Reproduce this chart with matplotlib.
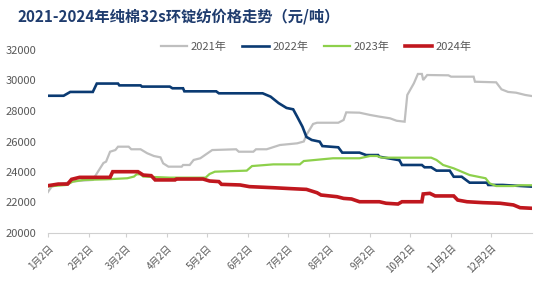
import matplotlib
matplotlib.use("Agg")
import matplotlib.pyplot as plt

plt.rcParams['font.family'] = ['Noto Sans CJK SC', 'DejaVu Sans']

title = "2021-2024年纯棉32s环锭纺价格走势（元/吨）"
tick_days = [0, 31, 59, 90, 120, 151, 181, 212, 243, 273, 304, 334]
tick_labels = ["1月2日", "2月2日", "3月2日", "4月2日", "5月2日", "6月2日",
               "7月2日", "8月2日", "9月2日", "10月2日", "11月2日", "12月2日"]

# day offset from Jan 2
days_2021 = [0, 3, 9, 21, 34, 37, 42, 44, 47, 51, 53, 61, 63, 70, 75, 80, 85, 87, 91, 101, 102, 107,
             110, 115, 124, 142, 144, 155, 157, 165, 175, 188, 193, 195, 200, 203, 219, 223, 225,
             235, 243, 250, 258, 263, 269, 271, 276, 279, 282, 283, 286, 302, 304, 321, 322, 338,
             342, 347, 353, 360, 365]
vals_2021 = [22670, 23040, 23200, 23400, 23480, 23900, 24590, 24680, 25330, 25440, 25660, 25660,
             25490, 25490, 25230, 25050, 24960, 24570, 24350, 24350, 24460, 24460, 24790, 24900,
             25440, 25490, 25330, 25330, 25490, 25490, 25770, 25880, 26000, 26430, 27150, 27230,
             27230, 27410, 27910, 27890, 27740, 27630, 27520, 27360, 27300, 29050, 29820, 30430,
             30430, 30030, 30360, 30340, 30250, 30250, 29920, 29880, 29420, 29250, 29200, 29050,
             28980]

days_2022 = [0, 12, 17, 34, 37, 53, 54, 70, 71, 92, 94, 102, 103, 127, 129, 162, 168, 174, 180, 185,
             188, 192, 195, 199, 205, 207, 219, 222, 235, 240, 249, 250, 264, 265, 267, 282, 284,
             289, 293, 303, 306, 312, 318, 331, 332, 343, 365]
vals_2022 = [29000, 29000, 29250, 29250, 29800, 29800, 29680, 29680, 29600, 29600, 29490, 29490,
             29290, 29290, 29160, 29160, 28940, 28520, 28200, 28110, 27630, 26970, 26300, 26100,
             25990, 25700, 25620, 25270, 25270, 25110, 25110, 25000, 24790, 24790, 24460, 24460,
             24310, 24310, 24090, 24090, 23690, 23690, 23300, 23300, 23150, 23150, 23040]

days_2023 = [0, 14, 19, 27, 44, 60, 65, 67, 70, 72, 92, 119, 122, 126, 150, 154, 170, 190, 193,
             215, 235, 243, 248, 252, 289, 293, 298, 306, 318, 330, 333, 338, 351, 356, 365]
vals_2023 = [23050, 23150, 23370, 23480, 23520, 23590, 23700, 23850, 23850, 23700, 23630, 23630,
             23870, 24020, 24090, 24390, 24500, 24500, 24720, 24900, 24900, 25050, 25050, 24940,
             24940, 24790, 24460, 24240, 23800, 23590, 23260, 23080, 23080, 23130, 23130]

days_2024 = [0, 8, 15, 18, 24, 47, 49, 68, 72, 78, 81, 96, 97, 117, 122, 129, 131, 145, 152, 170,
             183, 195, 203, 206, 218, 223, 229, 235, 250, 255, 264, 267, 282, 283, 288, 292, 306,
             309, 316, 328, 341, 351, 356, 365]
vals_2024 = [23100, 23210, 23210, 23520, 23650, 23650, 24020, 24020, 23800, 23760, 23480, 23480,
             23540, 23540, 23410, 23370, 23190, 23150, 23040, 22970, 22910, 22860, 22640, 22490,
             22380, 22270, 22230, 22050, 22050, 21950, 21900, 22050, 22050, 22560, 22600, 22430,
             22430, 22160, 22050, 21990, 21950, 21840, 21660, 21620]

series = [
    ("2021年", days_2021, vals_2021, "#BFBFBF", 1.6),
    ("2022年", days_2022, vals_2022, "#0A3A72", 1.9),
    ("2023年", days_2023, vals_2023, "#8DD04B", 1.6),
    ("2024年", days_2024, vals_2024, "#C0171E", 2.6),
]

fig = plt.figure(figsize=(5.51, 2.95), dpi=100)
ax = fig.add_axes([47.7 / 551, 1 - 233 / 295, (532 - 47.7) / 551, (233 - 50) / 295])

for name, d, v, c, lw in series:
    ax.plot(d, v, color=c, lw=lw, label=name, solid_joinstyle='miter')

ax.set_xlim(0, 365)
ax.set_ylim(20000, 32000)
ax.set_yticks(range(20000, 32001, 2000))
ax.set_xticks(tick_days)
ax.set_xticklabels(tick_labels, rotation=45, ha='right', va='top', rotation_mode='anchor')
ax.tick_params(axis='x', colors='#D0D0D0', length=3, width=0.8, labelcolor='#595959', labelsize=7, pad=4)
ax.tick_params(axis='y', length=0, labelcolor='#595959', labelsize=8, pad=8)
for s in ['top', 'right', 'left']:
    ax.spines[s].set_visible(False)
ax.spines['bottom'].set_color('#D0D0D0')
ax.spines['bottom'].set_linewidth(0.8)

fig.text(17 / 551, 1 - 16 / 295, title, fontsize=11, fontweight='bold', color='#1F3C6E',
         ha='left', va='center')

leg = fig.legend(loc='center', bbox_to_anchor=(316 / 551, 1 - 46.5 / 295), ncol=4, frameon=False,
                 fontsize=8, handlelength=2.4, handletextpad=0.3, columnspacing=1.4,
                 labelcolor='#595959')

fig.savefig("out.png", dpi=100)
